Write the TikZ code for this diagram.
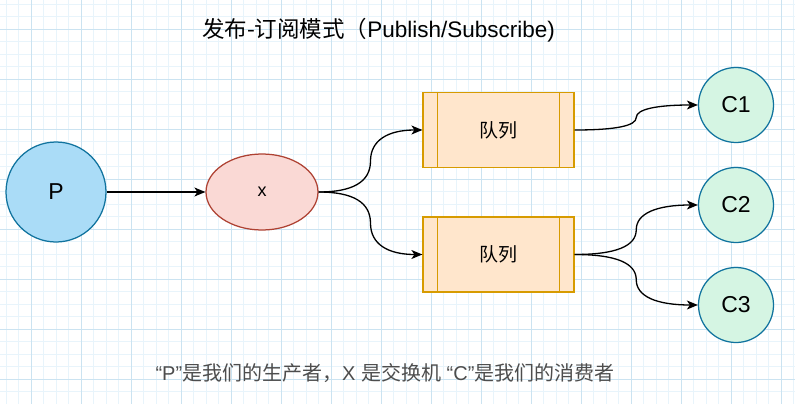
\documentclass[tikz,border=0pt]{standalone}
\usepackage{fontspec}
\setmainfont{Liberation Sans}
\newfontfamily\cjk{Noto Sans CJK SC}
\usetikzlibrary{calc,shapes.geometric,arrows.meta}
\definecolor{gridminor}{RGB}{232,244,251}
\definecolor{gridmajor}{RGB}{203,227,241}
\definecolor{pfill}{RGB}{170,220,247}
\definecolor{bluestroke}{RGB}{16,115,158}
\definecolor{xfill}{RGB}{250,217,213}
\definecolor{xstroke}{RGB}{174,65,50}
\definecolor{qfill}{RGB}{255,230,204}
\definecolor{qstroke}{RGB}{215,155,0}
\definecolor{cfill}{RGB}{213,245,227}
\definecolor{notegray}{RGB}{77,77,77}
\newcommand\qedge[3]{%
  \coordinate (mid#3) at ($(#1)!0.5!(#2)$);
  \draw[edge] (#1) .. controls ($(#1)!0.6667!(#1 -| mid#3)$) and ($(mid#3)!0.6667!(#1 -| mid#3)$) .. (mid#3)
    .. controls ($(mid#3)!0.6667!(mid#3 |- #2)$) and ($(#2)!0.6667!(mid#3 |- #2)$) .. (#2);
}
\begin{document}
\begin{tikzpicture}[x=1pt,y=-1pt,
  minorline/.style={gridminor,line width=1pt},
  majorline/.style={gridmajor,line width=1pt},
  pnode/.style={circle,draw=bluestroke,fill=pfill,line width=1.25pt,minimum size=100pt,inner sep=0pt,font=\fontsize{23}{23}\selectfont},
  cnode/.style={circle,draw=bluestroke,fill=cfill,line width=1.25pt,minimum size=75pt,inner sep=0pt,font=\fontsize{23}{23}\selectfont},
  xnode/.style={ellipse,draw=xstroke,fill=xfill,line width=1.25pt,minimum width=112pt,minimum height=76pt,inner sep=0pt,font=\fontsize{18}{18}\selectfont},
  qnode/.style={rectangle,draw=qstroke,fill=qfill,line width=1.25pt,minimum width=151pt,minimum height=75pt,inner sep=0pt,font=\cjk\fontsize{19}{19}\selectfont},
  qline/.style={draw=qstroke,line width=1.25pt},
  edge/.style={line width=1.3pt,-{Stealth[length=11pt,width=9pt,inset=3pt]}}
]
\useasboundingbox (0,0) rectangle (795,404);
\fill[white] (0,0) rectangle (795,404);
\foreach \i in {0,...,63} { \draw[minorline] ({6.3+12.5*\i},0) -- ({6.3+12.5*\i},404); }
\foreach \i in {0,...,32} { \draw[minorline] (0,{4.3+12.5*\i}) -- (795,{4.3+12.5*\i}); }
\foreach \i in {0,...,15} { \draw[majorline] ({31.3+50*\i},0) -- ({31.3+50*\i},404); }
\foreach \i in {0,...,7} { \draw[majorline] (0,{29.3+50*\i}) -- (795,{29.3+50*\i}); }

\node[font=\fontsize{22.5}{27}\selectfont] (title) at (378.5,30) {{\cjk 发布-订阅模式（}Publish/Subscribe)};

\node[pnode] (p) at (56,192) {P};
\node[xnode] (x) at (262,192) {x};
\node[qnode] (q1) at (498.5,130) {队列};
\node[qnode] (q2) at (498.5,254.5) {队列};
\foreach \q in {q1,q2} {
  \draw[qline] ([xshift=15pt]\q.north west) -- ([xshift=15pt]\q.south west);
  \draw[qline] ([xshift=-15pt]\q.north east) -- ([xshift=-15pt]\q.south east);
}
\node[cnode] (c1) at (736,105) {C1};
\node[cnode] (c2) at (736,205) {C2};
\node[cnode] (c3) at (736,305) {C3};

\draw[edge] (p) -- (x);
\qedge{x.east}{q1.west}{a}
\qedge{x.east}{q2.west}{b}
\qedge{q1.east}{c1.west}{c}
\qedge{q2.east}{c2.west}{d}
\qedge{q2.east}{c3.west}{e}

\node[text=notegray,font=\fontsize{20}{24}\selectfont] (note) at (385,373) {“P”{\cjk 是我们的生产者，}X {\cjk 是交换机} “C”{\cjk 是我们的消费者}};
\end{tikzpicture}
\end{document}
